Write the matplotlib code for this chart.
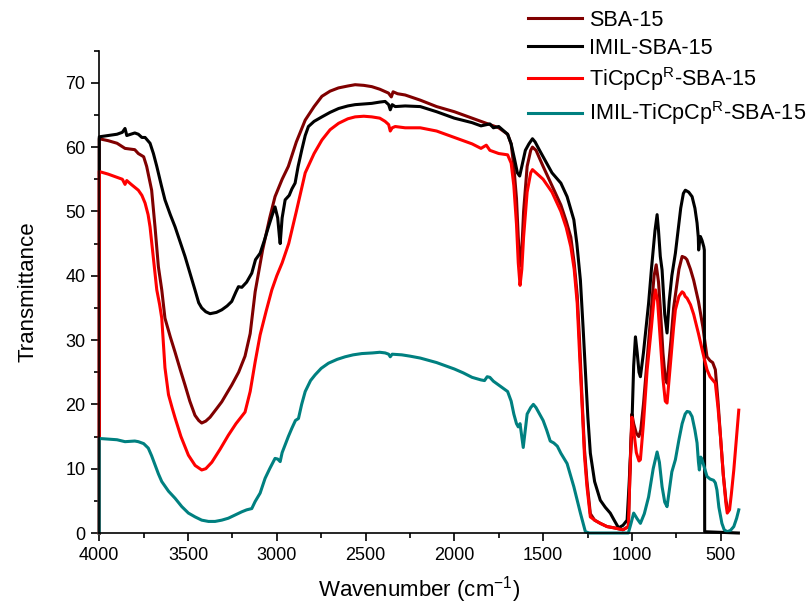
import matplotlib
matplotlib.use("Agg")
import matplotlib.pyplot as plt
from matplotlib.ticker import MultipleLocator

plt.rcParams['font.family'] = ['Liberation Sans', 'DejaVu Sans']
plt.rcParams['mathtext.fontset'] = 'custom'
plt.rcParams['mathtext.rm'] = 'Liberation Sans'
plt.rcParams['mathtext.it'] = 'Liberation Sans:italic'
plt.rcParams['mathtext.bf'] = 'Liberation Sans:bold'

labels = ['SBA-15', 'IMIL-SBA-15', r'TiCpCp$^\mathregular{R}$-SBA-15',
          r'IMIL-TiCpCp$^\mathregular{R}$-SBA-15']
colors = ['#800000', '#000000', '#FF0000', '#008080']

# SBA-15
sba_w = [4000, 4000, 3950, 3900, 3855, 3800, 3780, 3750, 3733, 3705, 3686, 3667, 3648, 3630, 3600,
         3573, 3545, 3517, 3490, 3461, 3440, 3423, 3400, 3376, 3340, 3310, 3280, 3254, 3215, 3179,
         3150, 3122, 3080, 3040, 3010, 2970, 2935, 2890, 2840, 2790, 2746, 2700, 2653, 2600, 2559,
         2510, 2465, 2420, 2371, 2355, 2345, 2320, 2277, 2192, 2100, 2000, 1900, 1850, 1800, 1750,
         1700, 1680, 1665, 1650, 1640, 1630, 1620, 1610, 1590, 1570, 1560, 1540, 1500, 1450, 1400,
         1370, 1344, 1325, 1308, 1295, 1281, 1267, 1253, 1234, 1210, 1178, 1140, 1100, 1050, 1020,
         1010, 1000, 990, 975, 961, 950, 935, 914, 890, 875, 863, 850, 840, 825, 812, 802, 790,
         780, 765, 755, 735, 717, 700, 690, 670, 652, 625, 600, 577, 560, 545, 530, 515, 501, 485,
         470, 460]
sba_t = [0, 61.3, 61.0, 60.6, 59.8, 59.6, 59.0, 58.5, 57.0, 53.3, 47.6, 41.4, 37.8, 33.4, 30.5,
         28.1, 25.5, 23.0, 20.5, 18.3, 17.5, 17.1, 17.4, 18.0, 19.3, 20.4, 21.8, 23.0, 25.0, 27.5,
         31.0, 37.5, 44.0, 49.0, 52.3, 55.0, 57.0, 60.8, 64.2, 66.3, 67.9, 68.7, 69.2, 69.5, 69.7,
         69.6, 69.4, 69.0, 68.4, 67.8, 68.6, 68.3, 68.1, 67.3, 66.3, 65.5, 64.5, 64.0, 63.5, 63.0,
         62.0, 60.5, 57.0, 52.0, 46.0, 41.5, 44.0, 50.0, 57.0, 59.5, 60.0, 59.5, 57.0, 54.0, 51.0,
         48.5, 46.0, 42.0, 37.0, 30.0, 21.0, 13.0, 8.0, 3.0, 2.0, 1.5, 1.0, 0.8, 0.5, 1.0,
         10.0, 18.5, 17.0, 15.5, 15.0, 16.0, 20.0, 27.0, 35.0, 40.0, 41.7, 39.0, 35.0, 28.0, 24.0, 23.3, 27.0,
         30.0, 35.0, 37.0, 41.0, 43.0, 42.8, 42.5, 41.0, 39.3, 36.0, 32.0, 27.4, 26.8, 26.5, 25.4, 20.5, 15.0, 9.0,
         5.0, 3.6]

# IMIL-SBA-15
imil_w = [4000, 4000, 3950, 3900, 3870, 3855, 3845, 3800, 3780, 3760, 3742, 3714, 3695, 3676, 3650,
          3630, 3600, 3573, 3545, 3517, 3490, 3461, 3440, 3423, 3400, 3376, 3340, 3310, 3280, 3254,
          3230, 3216, 3197, 3170, 3141, 3120, 3094, 3070, 3047, 3025, 3010, 2995, 2985, 2981, 2970,
          2953, 2930, 2915, 2897, 2880, 2859, 2840, 2822, 2790, 2746, 2700, 2652, 2600, 2559, 2510,
          2465, 2420, 2390, 2370, 2361, 2350, 2333, 2277, 2192, 2100, 2000, 1900, 1850, 1800, 1780,
          1750, 1700, 1680, 1660, 1645, 1632, 1620, 1600, 1580, 1560, 1545, 1520, 1500, 1470, 1450,
          1425, 1400, 1365, 1327, 1310, 1290, 1275, 1262, 1248, 1234, 1210, 1178, 1150, 1122, 1100,
          1075, 1050, 1027, 1015, 1005, 999, 990, 980, 970, 960, 952, 935, 920, 906, 890, 870, 858,
          850, 840, 830, 815, 802, 790, 775, 755, 740, 725, 710, 699, 680, 661, 645, 633, 626, 624,
          618, 614, 605, 595, 592, 590, 400]
imil_t = [0, 61.6, 61.8, 62.0, 62.3, 62.9, 61.8, 62.2, 62.0, 61.5, 61.5, 60.6, 59.0, 57.0, 54.0,
          51.8, 49.5, 47.6, 45.3, 43.0, 40.5, 37.8, 35.8, 35.0, 34.4, 34.1, 34.3, 34.7, 35.3, 36.0,
          37.5, 38.3, 38.2, 39.0, 40.4, 42.5, 43.5, 45.5, 47.6, 49.5, 50.7, 49.0, 46.0, 45.0, 49.0,
          51.8, 52.5, 53.5, 54.4, 57.0, 59.6, 61.8, 63.2, 64.0, 64.7, 65.4, 66.0, 66.4, 66.6, 66.7,
          66.8, 67.0, 67.1, 66.6, 65.8, 66.6, 66.3, 66.4, 66.3, 65.5, 64.5, 63.8, 63.3, 63.6, 63.0,
          63.2, 62.0, 60.5, 58.0, 56.0, 55.5, 57.0, 59.5, 60.5, 61.3, 60.8, 59.5, 58.5, 57.0, 56.0,
          55.2, 54.4, 52.3, 48.7, 45.0, 39.3, 32.0, 25.3, 18.0, 12.4, 8.0, 5.1, 4.0, 3.1, 2.0,
          0.8, 1.2, 2.0, 8.0, 14.0, 17.6, 26.0, 30.5, 28.0, 25.0, 24.3, 28.0, 32.0, 35.7, 41.0, 47.0, 49.5,
          47.0, 43.0, 40.9, 34.0, 31.1, 36.0, 40.0, 43.5, 47.0, 50.5, 52.8, 53.3, 53.0, 52.3, 50.5, 48.2, 46.0, 44.0,
          45.5, 46.1, 45.5, 44.5, 44.0, 0.2, 0.0]

# TiCpCpR-SBA-15
ti_w = [4000, 4000, 3950, 3900, 3870, 3855, 3845, 3820, 3780, 3760, 3742, 3725, 3714, 3696, 3676,
        3660, 3648, 3640, 3630, 3610, 3590, 3573, 3540, 3498, 3460, 3423, 3400, 3366, 3320, 3273,
        3230, 3179, 3150, 3122, 3094, 3060, 3028, 3000, 2970, 2933, 2890, 2840, 2790, 2746, 2700,
        2652, 2600, 2559, 2510, 2465, 2420, 2390, 2370, 2361, 2350, 2333, 2277, 2192, 2100, 2000,
        1900, 1850, 1820, 1800, 1750, 1700, 1680, 1665, 1650, 1640, 1630, 1620, 1610, 1590, 1570,
        1560, 1540, 1500, 1450, 1400, 1370, 1344, 1325, 1308, 1295, 1281, 1267, 1253, 1234, 1210,
        1178, 1140, 1100, 1050, 1020, 1010, 1000, 990, 975, 960, 952, 935, 914, 890, 875, 867, 855,
        840, 825, 812, 802, 790, 780, 765, 755, 735, 717, 708, 700, 689, 670, 652, 625, 600, 577,
        560, 545, 530, 515, 501, 485, 470, 463, 450, 440, 426, 410, 398]
ti_t = [0, 56.2, 55.8, 55.3, 55.0, 54.2, 54.8, 54.2, 53.3, 52.5, 51.3, 49.5, 47.6, 43.0, 37.8,
        35.5, 33.4, 30.0, 25.7, 21.5, 19.5, 17.9, 15.0, 12.1, 10.5, 9.8, 10.0, 11.0, 13.0, 15.2,
        17.0, 18.8, 22.0, 26.6, 30.8, 34.5, 37.8, 40.0, 42.0, 45.0, 50.0, 56.0, 59.0, 61.1, 62.7,
        63.7, 64.4, 64.7, 64.8, 64.7, 64.5, 64.0, 63.5, 62.5, 63.0, 63.2, 63.0, 63.0, 62.5, 61.5,
        60.5, 59.8, 60.3, 59.5, 59.0, 58.8, 57.5, 54.0, 48.0, 42.0, 38.5, 41.0, 46.0, 53.0, 56.0,
        56.5, 56.0, 55.0, 53.0, 50.0, 47.5, 44.5, 41.0, 35.7, 28.0, 20.2, 12.0, 7.2, 2.5, 2.0,
        1.5, 1.0, 0.8, 0.5, 1.0, 10.0, 18.0, 16.0, 12.5, 11.2, 11.4, 17.0, 25.4, 32.0, 36.5, 37.8, 36.0,
        30.0, 24.0, 20.5, 20.2, 24.0, 27.0, 32.0, 34.7, 36.8, 37.5, 37.3, 36.8, 36.5, 35.5, 34.0, 31.0, 28.0, 25.4,
        24.3, 23.8, 23.3, 19.5, 15.0, 9.0, 4.5, 3.1, 3.6, 6.0, 9.8, 15.0, 19.1]

# IMIL-TiCpCpR-SBA-15
imti_w = [4000, 4000, 3950, 3900, 3855, 3800, 3780, 3750, 3724, 3705, 3686, 3667, 3648, 3610, 3573,
          3535, 3498, 3460, 3423, 3385, 3348, 3310, 3273, 3235, 3197, 3170, 3141, 3122, 3094, 3066,
          3040, 3010, 2995, 2981, 2970, 2953, 2935, 2915, 2895, 2878, 2860, 2840, 2810, 2784, 2750,
          2709, 2660, 2615, 2570, 2521, 2460, 2420, 2390, 2370, 2361, 2350, 2296, 2250, 2192, 2100,
          2000, 1950, 1900, 1850, 1830, 1815, 1800, 1780, 1750, 1700, 1680, 1665, 1650, 1640, 1630,
          1620, 1612, 1605, 1590, 1570, 1555, 1540, 1520, 1500, 1480, 1460, 1440, 1420, 1400, 1365,
          1327, 1290, 1262, 1240, 1100, 1020, 1005, 990, 970, 952, 930, 906, 880, 858, 845, 830,
          815, 802, 790, 775, 755, 735, 717, 700, 689, 675, 661, 645, 633, 625, 620, 612, 605, 590,
          577, 560, 540, 530, 521, 510, 493, 480, 463, 445, 426, 410, 398]
imti_t = [0, 14.7, 14.6, 14.5, 14.2, 14.3, 14.2, 13.9, 13.2, 12.0, 10.6, 9.2, 8.0, 6.5, 5.4,
          4.1, 3.1, 2.5, 2.0, 1.8, 1.8, 2.0, 2.3, 2.8, 3.3, 3.6, 3.8, 4.9, 6.2, 8.5,
          10.0, 11.6, 11.5, 11.1, 12.5, 13.7, 15.0, 16.3, 17.5, 17.8, 20.0, 22.0, 23.7, 24.6, 25.6,
          26.4, 27.0, 27.4, 27.7, 27.9, 28.0, 28.1, 28.0, 27.8, 27.4, 27.8, 27.7, 27.5, 27.2, 26.5,
          25.5, 24.9, 24.2, 23.8, 23.7, 24.3, 24.2, 23.6, 23.0, 22.0, 20.5, 18.5, 17.0, 16.5, 17.0,
          15.0, 13.3, 15.0, 18.5, 19.5, 20.0, 19.5, 18.5, 17.5, 16.0, 14.3, 14.0, 13.5, 12.4, 10.8,
          7.2, 3.1, 0.2, 0.0, 0.0, 0.0, 1.5, 3.1, 2.2, 1.5, 3.0, 5.6, 10.0, 12.6, 11.0, 7.2,
          4.8, 4.1, 6.5, 9.5, 11.4, 14.5, 17.0, 18.5, 18.9, 18.8, 18.1, 16.0, 14.0, 11.0, 9.8, 11.8, 11.4, 10.0,
          8.8, 8.4, 8.2, 7.8, 6.7, 4.0, 1.5, 0.5, 0.2, 0.4, 1.0, 2.3, 3.6]

series = [(sba_w, sba_t), (imil_w, imil_t), (ti_w, ti_t), (imti_w, imti_t)]

fig = plt.figure(figsize=(8.11, 6.07), dpi=100)
ax = fig.add_axes([0.1224, 0.1219, 0.7881, 0.7947])

handles = []
for (w, t), c, lab in zip(series, colors, labels):
    h, = ax.plot(w, t, color=c, lw=2.2, label=lab, clip_on=False, solid_joinstyle='round')
    handles.append(h)

ax.set_xlim(4000, 400)
ax.set_ylim(0, 75)
ax.xaxis.set_major_locator(MultipleLocator(500))
ax.xaxis.set_minor_locator(MultipleLocator(250))
ax.yaxis.set_major_locator(MultipleLocator(10))
ax.yaxis.set_minor_locator(MultipleLocator(5))
for s in ['top', 'right']:
    ax.spines[s].set_visible(False)
for s in ['left', 'bottom']:
    ax.spines[s].set_linewidth(1.2)
ax.tick_params(which='major', direction='out', length=6, width=1.2, labelsize=13, pad=4)
ax.tick_params(which='minor', direction='out', length=3.5, width=1.2)

ax.set_xlabel('Wavenumber (cm$^{-1}$)', fontsize=16, labelpad=7)
ax.set_ylabel('Transmittance', fontsize=16, labelpad=19)

fig.legend(handles=handles, labels=labels, loc='upper left',
           bbox_to_anchor=(528 / 811, 1 - 10 / 607), frameon=False, fontsize=15.6,
           handlelength=2.5, handletextpad=0.3, labelspacing=0.3, borderpad=0,
           borderaxespad=0)

fig.savefig('out.png', dpi=100)
